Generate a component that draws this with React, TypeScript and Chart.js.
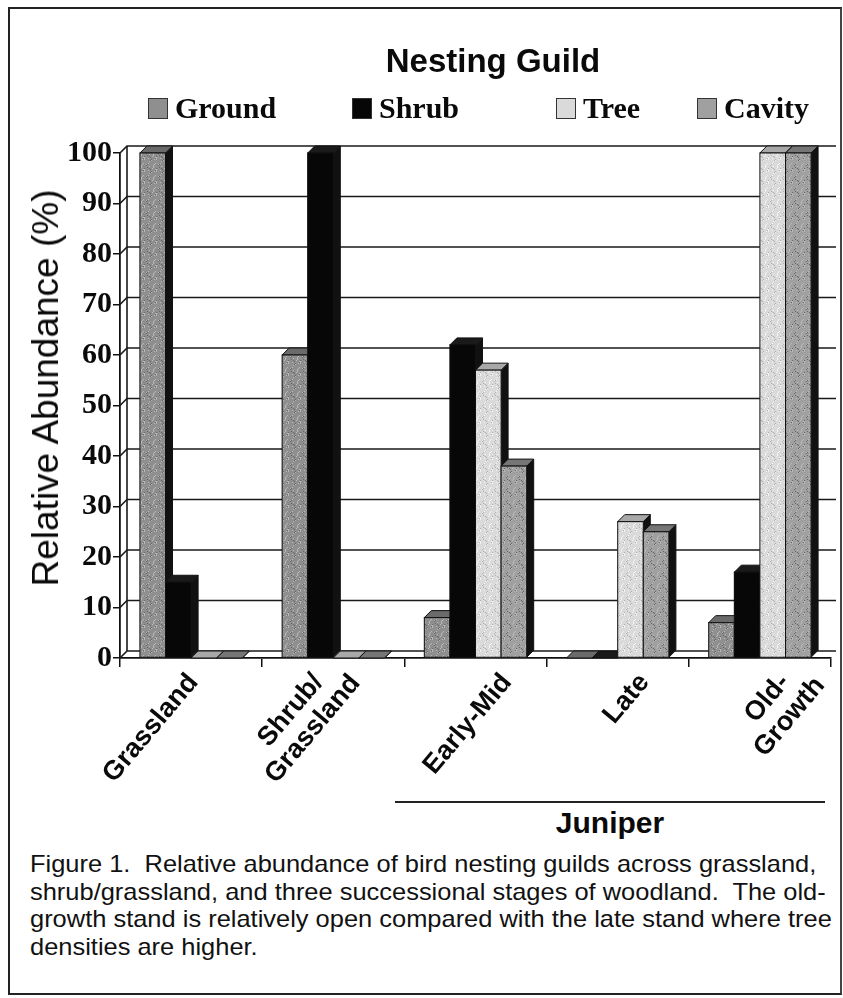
import React, { useEffect, useRef } from "react";
import { Chart, registerables } from "chart.js";

Chart.register(...registerables);

// ---- data ----
const categories: (string | string[])[] = ["Grassland", ["Shrub/", "Grassland"], "Early-Mid", "Late", ["Old-", "Growth"]];
const seriesNames = ["Ground", "Shrub", "Tree", "Cavity"];
const groundValues = [100, 60, 8, 0, 7];
const shrubValues = [15, 100, 62, 0, 17];
const treeValues = [0, 0, 57, 27, 100];
const cavityValues = [0, 0, 38, 25, 100];
const yTickValues = [0, 10, 20, 30, 40, 50, 60, 70, 80, 90, 100];
const captionLines = [
  "Figure 1.  Relative abundance of bird nesting guilds across grassland,",
  "shrub/grassland, and three successional stages of woodland.  The old-",
  "growth stand is relatively open compared with the late stand where tree",
  "densities are higher.",
];

// ---- styles ----
const frontColors = ["#8f8f8f", "#070707", "#dadada", "#a0a0a0"];
const topColors = ["#6a6a6a", "#1a1a1a", "#a8a8a8", "#767676"];
const sideColor = "#111111";
const DX = 7;
const DY = 7;

function makeSpeckle(base: string, dark: string, light: string): CanvasPattern | string {
  if (typeof document === "undefined") return base;
  const c = document.createElement("canvas");
  c.width = 12;
  c.height = 12;
  const g = c.getContext("2d");
  if (!g) return base;
  g.fillStyle = base;
  g.fillRect(0, 0, 12, 12);
  for (let i = 0; i < 12; i++) {
    for (let j = 0; j < 12; j++) {
      const h = (i * 37 + j * 91 + i * j * 13) % 23;
      if (h < 2) {
        g.fillStyle = dark;
        g.fillRect(i, j, 1, 1);
      } else if (h > 19) {
        g.fillStyle = light;
        g.fillRect(i, j, 1, 1);
      }
    }
  }
  return g.createPattern(c, "repeat") || base;
}

const bar3dPlugin = {
  id: "bar3d",
  beforeDatasetsDraw(chart: any) {
    const ctx = chart.ctx;
    const ys = chart.scales.y;
    const area = chart.chartArea;
    ctx.save();
    ctx.strokeStyle = "#1a1a1a";
    ctx.lineWidth = 1.6;
    yTickValues.forEach((v) => {
      const yy = ys.getPixelForValue(v);
      ctx.beginPath();
      ctx.moveTo(area.left, yy);
      ctx.lineTo(area.left + DX, yy - DY);
      ctx.lineTo(area.right + DX - 2, yy - DY);
      ctx.stroke();
    });
    ctx.beginPath();
    ctx.moveTo(area.left + DX, ys.getPixelForValue(0) - DY);
    ctx.lineTo(area.left + DX, ys.getPixelForValue(100) - DY);
    ctx.stroke();
    ctx.restore();
  },
  afterDatasetsDraw(chart: any) {
    const ctx = chart.ctx;
    const n = chart.data.labels.length;
    const fronts = frontColors.map((col, i) =>
      i === 1 ? col : makeSpeckle(col, i === 2 ? "#b0b0b0" : "#666666", i === 2 ? "#f2f2f2" : "#b8b8b8")
    );
    const metas = chart.data.datasets.map((_: any, i: number) => chart.getDatasetMeta(i));
    for (let c = 0; c < n; c++) {
      for (let d = 0; d < metas.length; d++) {
        const el = metas[d].data[c];
        const { x, y, base, width } = el.getProps(["x", "y", "base", "width"], true);
        const l = x - width / 2;
        const r = x + width / 2;
        ctx.save();
        ctx.lineWidth = 1;
        ctx.strokeStyle = "#111";
        ctx.beginPath();
        ctx.moveTo(r, y);
        ctx.lineTo(r + DX, y - DY);
        ctx.lineTo(r + DX, base - DY);
        ctx.lineTo(r, base);
        ctx.closePath();
        ctx.fillStyle = sideColor;
        ctx.fill();
        ctx.stroke();
        ctx.beginPath();
        ctx.moveTo(l, y);
        ctx.lineTo(l + DX, y - DY);
        ctx.lineTo(r + DX, y - DY);
        ctx.lineTo(r, y);
        ctx.closePath();
        ctx.fillStyle = topColors[d];
        ctx.fill();
        ctx.stroke();
        if (base - y > 0.5) {
          ctx.fillStyle = fronts[d];
          ctx.fillRect(l, y, width, base - y);
          ctx.strokeRect(l, y, width, base - y);
        }
        ctx.restore();
      }
    }
  },
};

// Rotated, centre-aligned multi-line category labels, placed from the x scale's tick pixels
const LABEL_ANGLE = 50;
const LABEL_FONT = 27;
const LABEL_LINE = 29;
const LABEL_SPREAD = 1.115;
const LABEL_SHIFT = -42;
const LABEL_GAP = 12;

const rotLabelPlugin = {
  id: "rotLabels",
  afterDraw(chart: any) {
    const xs = chart.scales.x;
    const ctx = chart.ctx;
    const th = (LABEL_ANGLE * Math.PI) / 180;
    const c = Math.cos(th);
    const s = Math.sin(th);
    const hh = LABEL_FONT * 0.72;
    ctx.save();
    ctx.font = `bold ${LABEL_FONT}px 'Liberation Sans', Arial, sans-serif`;
    ctx.fillStyle = "#0a0a0a";
    ctx.textAlign = "center";
    ctx.textBaseline = "alphabetic";
    const x0 = xs.getPixelForTick(0);
    chart.data.labels.forEach((raw: any, i: number) => {
      const lines: string[] = Array.isArray(raw) ? raw : [raw];
      const n = lines.length;
      let minX = Infinity, maxX = -Infinity, minY = Infinity;
      lines.forEach((ln, j) => {
        const w = ctx.measureText(ln).width;
        const yc = (j - (n - 1) / 2) * LABEL_LINE;
        for (const px of [-w / 2, w / 2]) {
          for (const py of [yc - hh / 2, yc + hh / 2]) {
            const gx = px * c + py * s;
            const gy = -px * s + py * c;
            minX = Math.min(minX, gx);
            maxX = Math.max(maxX, gx);
            minY = Math.min(minY, gy);
          }
        }
      });
      const target = x0 + LABEL_SHIFT + LABEL_SPREAD * (xs.getPixelForTick(i) - x0);
      const ox = target - (minX + maxX) / 2;
      const oy = xs.top + LABEL_GAP - minY;
      ctx.save();
      ctx.translate(ox, oy);
      ctx.rotate(-th);
      lines.forEach((ln, j) => {
        const yc = (j - (n - 1) / 2) * LABEL_LINE;
        ctx.fillText(ln, 0, yc + hh / 2);
      });
      ctx.restore();
    });
    ctx.restore();
  },
};

function BarChart() {
  const ref = useRef<HTMLCanvasElement | null>(null);
  useEffect(() => {
    if (!ref.current) return;
    const valueLists = [groundValues, shrubValues, treeValues, cavityValues];
    const chart = new Chart(ref.current, {
      type: "bar",
      data: {
        labels: categories as any,
        datasets: seriesNames.map((name, i) => ({
          label: name,
          data: valueLists[i],
          backgroundColor: frontColors[i],
          borderWidth: 0,
          categoryPercentage: 0.72,
          barPercentage: 1,
        })),
      },
      options: {
        responsive: false,
        animation: false,
        devicePixelRatio: 1,
        layout: { padding: { top: 153, left: 0, right: 12, bottom: 0 } },
        plugins: { legend: { display: false }, title: { display: false }, tooltip: { enabled: false } },
        scales: {
          x: {
            grid: { display: true, drawOnChartArea: false, drawTicks: true, tickLength: 9, color: "#111", lineWidth: 1.5, offset: true },
            border: { display: true, color: "#111", width: 1.8 },
            ticks: { display: false },
            afterFit: (sc: any) => {
              sc.height = 142;
            },
          },
          y: {
            min: 0,
            max: 100,
            ticks: {
              stepSize: 10,
              padding: 1,
              color: "#0a0a0a",
              font: { family: "'Liberation Serif', 'Times New Roman', serif", size: 30, weight: "bold" },
            },
            grid: { display: true, drawOnChartArea: false, drawTicks: true, tickLength: 7, color: "#111", lineWidth: 1.5 },
            border: { display: true, color: "#111", width: 1.8 },
            afterFit: (sc: any) => {
              sc.width = 120;
            },
          },
        },
      },
      plugins: [bar3dPlugin, rotLabelPlugin],
    } as any);
    return () => chart.destroy();
  }, []);
  return <canvas ref={ref} width={843} height={800} style={{ position: "absolute", left: 0, top: 0 }} />;
}

const legendPos = [148, 352, 556, 697];

export default function App() {
  return (
    <div style={{ position: "absolute", left: 0, top: 0, width: 843, height: 998, background: "#fff", overflow: "hidden" }}>
      <div style={{ position: "absolute", left: 8, top: 7, width: 830, height: 984, border: "2px solid #222", borderRight: "2px solid #444" }} />
      <BarChart />
      <div
        style={{
          position: "absolute",
          left: 0,
          width: 986,
          top: 42,
          textAlign: "center",
          fontFamily: "'Liberation Sans', Arial, sans-serif",
          fontWeight: "bold",
          fontSize: 33,
          color: "#0a0a0a",
        }}
      >
        Nesting Guild
      </div>
      {seriesNames.map((name, i) => (
        <div
          key={name}
          style={{
            position: "absolute",
            left: legendPos[i],
            top: 91,
            display: "flex",
            alignItems: "center",
            fontFamily: "'Liberation Serif', 'Times New Roman', serif",
            fontWeight: "bold",
            fontSize: 30,
            color: "#0a0a0a",
            whiteSpace: "nowrap",
          }}
        >
          <span
            style={{
              display: "inline-block",
              width: 20,
              height: 21,
              background: frontColors[i],
              border: "1px solid #333",
              marginRight: 7,
              boxSizing: "border-box",
            }}
          />
          {name}
        </div>
      ))}
      <div
        style={{
          position: "absolute",
          left: 46,
          top: 388,
          transform: "translate(-50%, -50%) rotate(-90deg)",
          fontFamily: "'Liberation Sans', Arial, sans-serif",
          fontSize: 37,
          color: "#0a0a0a",
          whiteSpace: "nowrap",
        }}
      >
        Relative Abundance (%)
      </div>
      <div style={{ position: "absolute", left: 395, top: 801, width: 430, height: 2, background: "#222" }} />
      <div
        style={{
          position: "absolute",
          left: 395,
          width: 430,
          top: 806,
          textAlign: "center",
          fontFamily: "'Liberation Sans', Arial, sans-serif",
          fontWeight: "bold",
          fontSize: 30,
          color: "#0a0a0a",
        }}
      >
        Juniper
      </div>
      <div
        style={{
          position: "absolute",
          left: 30,
          top: 850,
          fontFamily: "'Liberation Sans', Arial, sans-serif",
          fontSize: 24,
          lineHeight: "27.5px",
          color: "#111",
          whiteSpace: "pre",
          transform: "scaleX(1.06)",
          transformOrigin: "left top",
        }}
      >
        {captionLines.map((line, i) => (
          <div key={i}>{line}</div>
        ))}
      </div>
    </div>
  );
}
